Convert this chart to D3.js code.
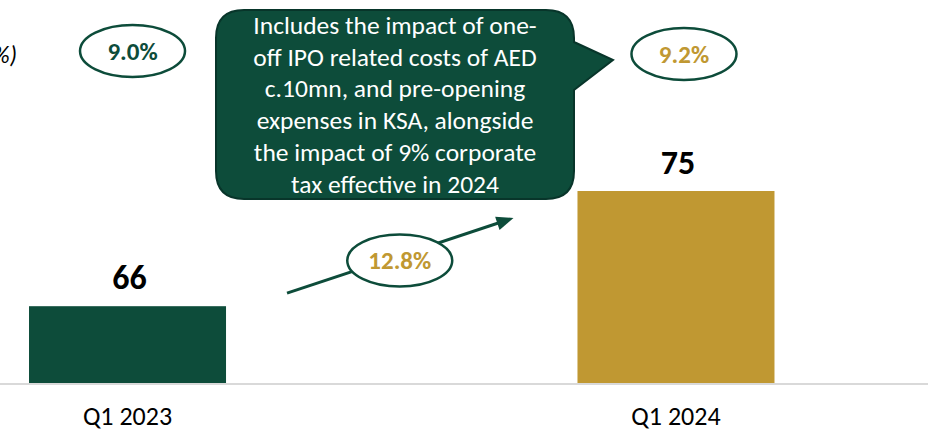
<!DOCTYPE html>
<html>
<head>
<meta charset="utf-8">
<script src="https://cdn.jsdelivr.net/npm/d3@7/dist/d3.min.js"></script>
<style>
  html, body { margin: 0; padding: 0; background: #fff; }
  svg { display: block; font-family: Carlito, Lato, "Open Sans", sans-serif; }
</style>
</head>
<body>
<svg id="chart" width="928" height="434"></svg>
<script>
// Quarterly net profit (AED mn) with net profit margin and YoY growth
const categories = ["Q1 2023", "Q1 2024"];
const profit = [66, 75];
const margins = [9.0, 9.2];
const growth = [12.8];
const barColors = ["#0d4c3a", "#c09832"];
const marginColors = ["#0d4c3a", "#c09832"];
const noteLines = [
  "Includes the impact of one-",
  "off IPO related costs of AED",
  "c.10mn, and pre-opening",
  "expenses in KSA, alongside",
  "the impact of 9% corporate",
  "tax effective in 2024"
];
const axisTitle = "Net profit margin (%)";

const W = 928, H = 434;
const green = "#0d4c3a";
const svg = d3.select("#chart");

const x = d3.scaleBand()
  .domain(categories)
  .range([0, 803.5])
  .paddingInner(0.6408)
  .paddingOuter(0.0529);

const y = d3.scaleLinear()
  .domain([60, 75])
  .range([383, 191]);

const bw = x.bandwidth();
const cx = c => x(c) + bw / 2;

// baseline
svg.append("line")
  .attr("x1", 0).attr("x2", W)
  .attr("y1", y(60) + 1).attr("y2", y(60) + 1)
  .attr("stroke", "#d9d9d9").attr("stroke-width", 2);

// bars
svg.selectAll("rect.bar")
  .data(categories)
  .join("rect")
  .attr("class", "bar")
  .attr("x", d => x(d))
  .attr("width", bw)
  .attr("y", (d, i) => y(profit[i]))
  .attr("height", (d, i) => y(60) - y(profit[i]))
  .attr("fill", (d, i) => barColors[i]);

// value labels
svg.selectAll("text.val")
  .data(categories)
  .join("text")
  .attr("class", "val")
  .attr("x", d => cx(d) + 2)
  .attr("y", (d, i) => y(profit[i]) - 17)
  .attr("text-anchor", "middle")
  .attr("font-size", 34)
  .attr("font-weight", 700)
  .attr("fill", "#000")
  .text((d, i) => profit[i]);

// category axis labels
svg.selectAll("text.cat")
  .data(categories)
  .join("text")
  .attr("class", "cat")
  .attr("x", d => cx(d))
  .attr("y", 425)
  .attr("text-anchor", "middle")
  .attr("font-size", 26)
  .attr("fill", "#000")
  .text(d => d);

// margin title, running off the left edge
svg.append("text")
  .attr("x", 17).attr("y", 63)
  .attr("text-anchor", "end")
  .attr("font-size", 24)
  .attr("font-style", "italic")
  .attr("fill", "#000")
  .text(axisTitle);

// growth arrow between the bars
const a0 = [x(categories[0]) + bw + 61, y(profit[0]) - 13];
const a1 = [x(categories[1]) - 64, y(profit[1]) + 27];
const ang = Math.atan2(a1[1] - a0[1], a1[0] - a0[0]);
const headLen = 17, headHalf = 7;
const lineEnd = [a1[0] - Math.cos(ang) * headLen * 0.8, a1[1] - Math.sin(ang) * headLen * 0.8];
svg.append("line")
  .attr("x1", a0[0]).attr("y1", a0[1])
  .attr("x2", lineEnd[0]).attr("y2", lineEnd[1])
  .attr("stroke", green).attr("stroke-width", 3);
const hb = [a1[0] - Math.cos(ang) * headLen, a1[1] - Math.sin(ang) * headLen];
const px = -Math.sin(ang) * headHalf, py = Math.cos(ang) * headHalf;
svg.append("path")
  .attr("d", `M${a1[0]},${a1[1]}L${hb[0] + px},${hb[1] + py}L${hb[0] - px},${hb[1] - py}Z`)
  .attr("fill", green);

// ellipse badges
function badge(cxp, cyp, label, color) {
  const g = svg.append("g").attr("transform", `translate(${cxp},${cyp})`);
  g.append("ellipse")
    .attr("rx", 52.5).attr("ry", 26)
    .attr("fill", "#fff")
    .attr("stroke", green).attr("stroke-width", 2.5);
  g.append("text")
    .attr("text-anchor", "middle")
    .attr("dy", "0.35em")
    .attr("font-size", 25)
    .attr("font-weight", 700)
    .attr("fill", color)
    .text(label);
}
const fmt = d3.format(".1f");
badge((a0[0] + a1[0]) / 2 - 0.5, (a0[1] + a1[1]) / 2 + 5, fmt(growth[0]) + "%", "#c09832");
categories.forEach((c, i) => {
  badge(cx(c) + (i === 0 ? 5 : 8), 51 + i * 3, fmt(margins[i]) + "%", marginColors[i]);
});

// callout bubble
const bx0 = 216, by0 = 10, bx1 = 574, by1 = 199, r = 28;
const tail = { top: 42, bottom: 90, tipX: 613, tipY: 60 };
const bubble = [
  `M${bx0 + r},${by0}`,
  `H${bx1 - r}`,
  `Q${bx1},${by0} ${bx1},${by0 + r}`,
  `V${tail.top}`,
  `L${tail.tipX},${tail.tipY}`,
  `L${bx1},${tail.bottom}`,
  `V${by1 - r}`,
  `Q${bx1},${by1} ${bx1 - r},${by1}`,
  `H${bx0 + r}`,
  `Q${bx0},${by1} ${bx0},${by1 - r}`,
  `V${by0 + r}`,
  `Q${bx0},${by0} ${bx0 + r},${by0}`,
  "Z"
].join("");
svg.append("path")
  .attr("d", bubble)
  .attr("fill", "#0d4c3a")
  .attr("stroke", "#08352a")
  .attr("stroke-width", 2);

const noteX = (bx0 + bx1) / 2;
svg.append("g")
  .selectAll("text")
  .data(noteLines)
  .join("text")
  .attr("x", noteX)
  .attr("y", (d, i) => 34 + i * 31.7)
  .attr("text-anchor", "middle")
  .attr("font-size", 25.5)
  .attr("fill", "#fff")
  .text(d => d);
</script>
</body>
</html>
